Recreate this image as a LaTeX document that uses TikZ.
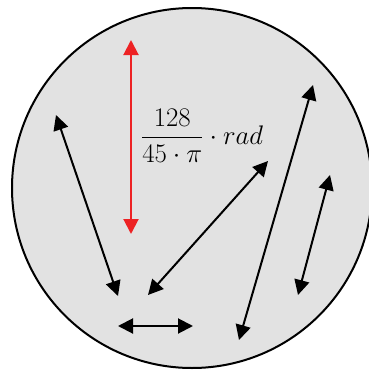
\documentclass[tikz,border=0pt]{standalone}
\usepackage{amsmath}
\usetikzlibrary{arrows.meta}
\definecolor{diskgray}{RGB}{226,226,226}
\definecolor{arcred}{RGB}{237,34,36}

\begin{document}
\begin{tikzpicture}[x=1pt, y=-1pt, >={Triangle[length=15pt, width=15pt]}, line width=2pt]
\useasboundingbox (0,0) rectangle (369,372);

% === Disco ===
\begin{scope}
    \clip (0,0) rectangle (369,372);
    \draw[fill=diskgray] (192,188) circle (180pt);
\end{scope}

% === Extremos de las flechas ===
\coordinate (r1) at (131,40);
\coordinate (r2) at (131,234);
\coordinate (a1) at (56,115);
\coordinate (a2) at (118,296);
\coordinate (b1) at (148,295);
\coordinate (b2) at (268,161);
\coordinate (c1) at (118,326);
\coordinate (c2) at (193,326);
\coordinate (d1) at (239,340);
\coordinate (d2) at (313,85);
\coordinate (e1) at (298,295);
\coordinate (e2) at (330,175);

% === Flecha roja con etiqueta ===
\draw[<->, arcred] (r1) -- (r2);
\node[anchor=west, inner sep=0pt, font=\Huge, scale=1.08] (lbl) at (140,136)
    {$\displaystyle\frac{128}{45\cdot\pi}\cdot rad$};

% === Flechas negras ===
\draw[<->] (a1) -- (a2);
\draw[<->] (b1) -- (b2);
\draw[<->] (c1) -- (c2);
\draw[<->] (d1) -- (d2);
\draw[<->] (e1) -- (e2);

\end{tikzpicture}
\end{document}
